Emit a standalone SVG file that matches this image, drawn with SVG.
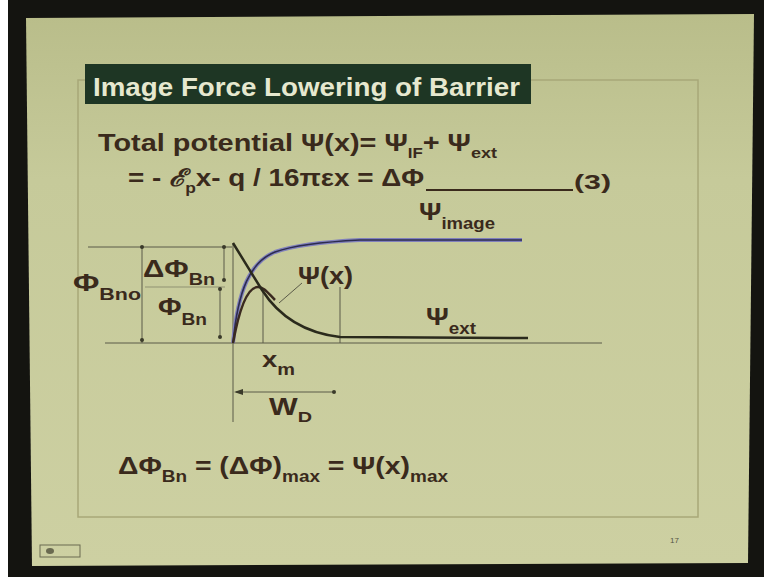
<svg xmlns="http://www.w3.org/2000/svg" width="764" height="577" viewBox="0 0 764 577">
<defs>
<style>
.t{font-family:"Liberation Sans",Arial,sans-serif;font-weight:bold;fill:#3a2a1c}
.thin{stroke:#5a5a48;stroke-width:1;fill:none}
.dot{fill:#3a3a2a}
</style>
<linearGradient id="bg" x1="0" y1="0" x2="0" y2="1">
<stop offset="0" stop-color="#b9bd8a"/>
<stop offset="0.3" stop-color="#c6ca9a"/>
<stop offset="1" stop-color="#cdd0a2"/>
</linearGradient>
</defs>
<rect width="764" height="577" fill="#ffffff"/>
<rect x="8" y="0" width="756" height="577" fill="#141410"/>
<polygon points="26,18 754,14 748,563 32,566" fill="url(#bg)"/>
<rect x="78" y="80" width="620" height="437" fill="none" stroke="#a8a878" stroke-width="1.5"/>
<g id="title">
<rect x="85" y="64" width="446" height="40" fill="#1e3624"/>
<text x="93" y="96" class="t" style="fill:#e6e8cf" font-size="25" textLength="427" lengthAdjust="spacingAndGlyphs">Image Force Lowering of Barrier</text>
</g>
<g id="eq1">
<text class="t" font-size="24" x="98" y="151" textLength="399" lengthAdjust="spacingAndGlyphs">Total potential Ψ(x)= Ψ<tspan font-size="14" dy="7">IF</tspan><tspan dy="-7">+ Ψ</tspan><tspan font-size="15" dy="7">ext</tspan></text>
<text class="t" font-size="24" x="128" y="186" textLength="296" lengthAdjust="spacingAndGlyphs">= - <tspan font-style="italic" font-family="Liberation Serif,serif">ℰ</tspan><tspan font-size="15" dy="7">p</tspan><tspan dy="-7">x- q / 16πεx = ΔΦ</tspan></text>
<line x1="426" y1="190" x2="573" y2="190" stroke="#3a2a1c" stroke-width="2"/>
<text class="t" font-size="21" x="574" y="189" textLength="37" lengthAdjust="spacingAndGlyphs">(3)</text>
</g>
<g id="axes">
<line x1="105" y1="343" x2="602" y2="343" class="thin"/>
<line x1="88" y1="247" x2="232" y2="247" class="thin"/>
<line x1="145" y1="287" x2="225" y2="287" class="thin" stroke-opacity="0.5"/>
<line x1="233" y1="243" x2="233" y2="422" class="thin"/>
</g>
<g id="dims">
<line x1="142" y1="247" x2="142" y2="343" class="thin"/>
<circle cx="142" cy="247" r="2" class="dot"/><circle cx="142" cy="340" r="2" class="dot"/>
<line x1="224" y1="247" x2="224" y2="280" class="thin"/>
<circle cx="224" cy="247" r="2" class="dot"/><circle cx="224" cy="280" r="2" class="dot"/>
<line x1="220" y1="289" x2="220" y2="337" class="thin"/>
<circle cx="220" cy="289" r="2" class="dot"/><circle cx="220" cy="337" r="2" class="dot"/>
<line x1="263" y1="290" x2="263" y2="343" class="thin"/>
<line x1="340" y1="287" x2="340" y2="343" class="thin"/>
<line x1="236" y1="392" x2="334" y2="392" class="thin"/>
<polygon points="234,392 243,389 243,395" class="dot"/>
<circle cx="334" cy="392" r="2" class="dot"/>
<line x1="302" y1="283" x2="279" y2="303" class="thin"/>
</g>
<g id="curves">
<path d="M233,343 C238,290 250,262 275,252 C300,243 340,241 360,240 L522,240" fill="none" stroke="#8080bc" stroke-width="4"/>
<path d="M233,343 C238,290 250,262 275,252 C300,243 340,241 360,240 L522,240" fill="none" stroke="#2c2c50" stroke-width="1.6"/>
<path d="M233,343 C240,305 248,287 258,287 C264,287 268,293 275,300" fill="none" stroke="#3a2a20" stroke-width="2.5"/>
<path d="M233,243 L262,290 C280,318 305,333 340,337 L528,338" fill="none" stroke="#2a2a1c" stroke-width="2.5"/>
</g>
<g id="labels">
<text class="t" font-size="24" x="419" y="220" textLength="76" lengthAdjust="spacingAndGlyphs">Ψ<tspan font-size="16" dy="9">image</tspan></text>
<text class="t" font-size="24" x="426" y="325" textLength="50" lengthAdjust="spacingAndGlyphs">Ψ<tspan font-size="16" dy="9">ext</tspan></text>
<text class="t" font-size="23" x="298" y="284" textLength="55" lengthAdjust="spacingAndGlyphs">Ψ(x)</text>
<text class="t" font-size="24" x="143" y="277" textLength="72" lengthAdjust="spacingAndGlyphs">ΔΦ<tspan font-size="16" dy="8">Bn</tspan></text>
<text class="t" font-size="24" x="158" y="315" textLength="49" lengthAdjust="spacingAndGlyphs">Φ<tspan font-size="16" dy="10">Bn</tspan></text>
<text class="t" font-size="24" x="73" y="291" textLength="68" lengthAdjust="spacingAndGlyphs">Φ<tspan font-size="16" dy="9">Bno</tspan></text>
<text class="t" font-size="22" x="262" y="367" textLength="33" lengthAdjust="spacingAndGlyphs">x<tspan font-size="16" dy="8">m</tspan></text>
<text class="t" font-size="23" x="269" y="415" textLength="43" lengthAdjust="spacingAndGlyphs">W<tspan font-size="15" dy="7">D</tspan></text>
</g>
<g id="eq2">
<text class="t" font-size="24" x="118" y="474" textLength="330" lengthAdjust="spacingAndGlyphs">ΔΦ<tspan font-size="16" dy="8">Bn</tspan><tspan dy="-8"> = (ΔΦ)</tspan><tspan font-size="16" dy="8">max</tspan><tspan dy="-8"> =  Ψ(x)</tspan><tspan font-size="16" dy="8">max</tspan></text>
</g>
<text x="670" y="543" font-family="Liberation Sans,sans-serif" font-size="8" fill="#555544">17</text>
<rect x="40" y="545" width="40" height="12" fill="none" stroke="#6a6a50" stroke-width="1"/>
<ellipse cx="50" cy="551" rx="4" ry="3" fill="#6a6a50"/>
</svg>
